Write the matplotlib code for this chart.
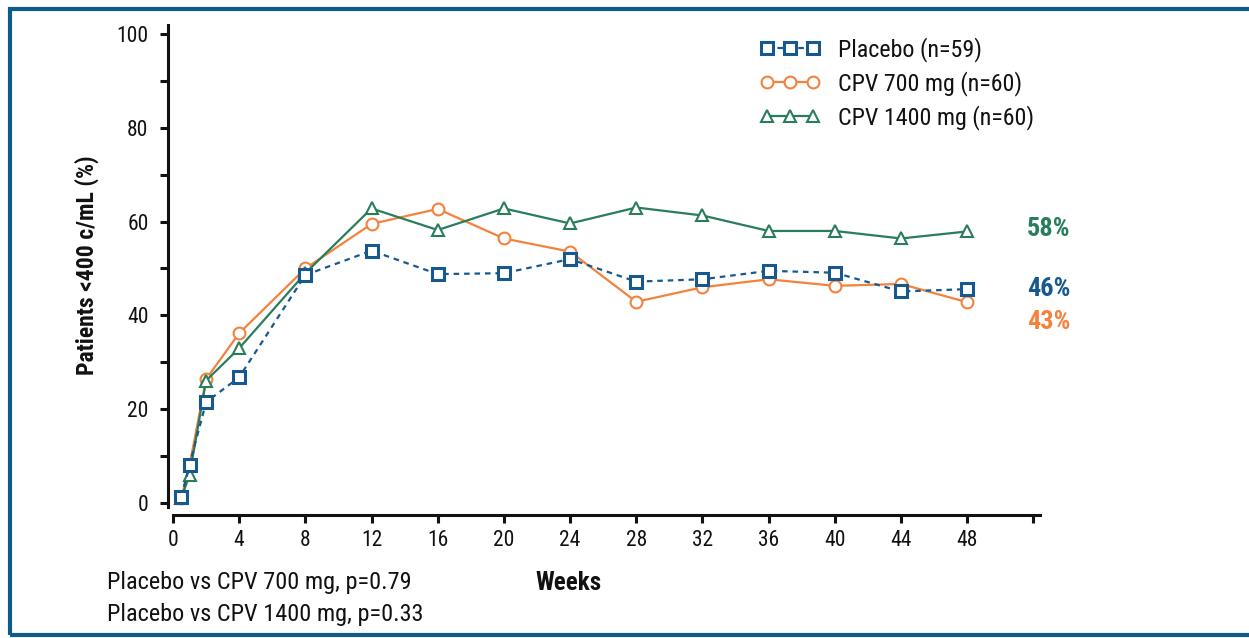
import matplotlib
matplotlib.use("Agg")
import matplotlib.pyplot as plt
from matplotlib.patches import Rectangle
from matplotlib.ticker import MultipleLocator
from matplotlib import font_manager as fm

_avail = set(f.name for f in fm.fontManager.ttflist)
_prefs = ['Roboto Condensed', 'Archivo Narrow', 'PT Sans Narrow', 'Liberation Sans Narrow',
          'Arial Narrow', 'Pragati Narrow', 'Open Sans Condensed', 'IBM Plex Sans Condensed',
          'Fira Sans Condensed', 'Liberation Sans']
FONT = next((p for p in _prefs if p in _avail), 'DejaVu Sans')
plt.rcParams['font.family'] = [FONT, 'DejaVu Sans']

# ---- data ----
weeks = [0.5, 1, 2, 4, 8, 12, 16, 20, 24, 28, 32, 36, 40, 44, 48]
placebo = [1.3, 8.2, 21.5, 26.8, 48.6, 53.8, 48.8, 49.0, 52.0, 47.2, 47.7, 49.5, 49.1, 45.1, 45.6]
cpv700 = [1.0, 8.0, 26.4, 36.2, 50.0, 59.5, 62.7, 56.4, 53.6, 42.9, 46.0, 47.7, 46.3, 46.7, 42.8]
cpv1400 = [1.0, 6.0, 26.1, 33.0, 49.0, 62.8, 58.2, 62.8, 59.6, 63.0, 61.3, 58.0, 58.0, 56.4, 57.9]
series_labels = ["Placebo (n=59)", "CPV 700 mg (n=60)", "CPV 1400 mg (n=60)"]
end_labels = ["46%", "43%", "58%"]
xticks = list(range(0, 53, 4))
xticklabels = [str(t) if t <= 48 else "" for t in xticks]
yticks = [0, 20, 40, 60, 80, 100]
footnotes = ["Placebo vs CPV 700 mg, p=0.79", "Placebo vs CPV 1400 mg, p=0.33"]

BLUE = "#17598f"
ORANGE = "#f4823c"
GREEN = "#2a7d5b"
FRAME = "#0e5a8a"
INK = "#111111"

W, H = 1249, 638
fig = plt.figure(figsize=(W / 100, H / 100), dpi=100)
fig.patch.set_facecolor("white")

def px(x, y):
    return x / W, 1 - y / H

ax_left = 173 / W
ax_width = (1040 - 173) / W
ax_bottom = (H - 506.75) / H
ax_height = (506.75 - 24.6) / H
ax = fig.add_axes([ax_left, ax_bottom, ax_width, ax_height])

ax.plot(weeks, placebo, color=BLUE, lw=1.6, ls=(0, (2.5, 2.2)), marker="s", ms=8,
        mfc="white", mec=BLUE, mew=2.2, label=series_labels[0], zorder=3)
ax.plot(weeks, cpv700, color=ORANGE, lw=1.6, marker="o", ms=8.5,
        mfc="white", mec=ORANGE, mew=1.5, label=series_labels[1], zorder=2)
ax.plot(weeks, cpv1400, color=GREEN, lw=1.6, marker="^", ms=9,
        mfc="white", mec=GREEN, mew=1.5, label=series_labels[2], zorder=2)

ax.set_xlim(0, 52.4)
ax.set_ylim(-0.8, 102)
ax.set_xticks(xticks)
ax.set_xticklabels(xticklabels)
ax.set_yticks(yticks)
ax.yaxis.set_minor_locator(MultipleLocator(10))

for s in ["top", "right"]:
    ax.spines[s].set_visible(False)
ax.spines["left"].set_position(("outward", 3.6))
ax.spines["bottom"].set_position(("outward", 5.8))
for s in ["left", "bottom"]:
    ax.spines[s].set_linewidth(2.2)
    ax.spines[s].set_color(INK)

ax.tick_params(axis="both", which="both", direction="out", length=6, width=2.2,
               color=INK, labelsize=15.5, labelcolor=INK)
ax.tick_params(axis="y", which="minor", length=6)
ax.tick_params(axis="x", pad=5)
ax.tick_params(axis="y", pad=8)

ax.set_ylabel("Patients <400 c/mL (%)", fontsize=17, fontweight="bold", color=INK)
ax.yaxis.set_label_coords(-0.085, 0.5)

# end labels
offsets = [(0, 0), (0, -14), (0, 2)]
for ys, lab, col, off in zip([placebo, cpv700, cpv1400], end_labels,
                             [BLUE, ORANGE, GREEN], offsets):
    ax.annotate(lab, xy=(weeks[-1], ys[-1]), xytext=(43 + off[0], off[1]),
                textcoords="offset points", ha="left", va="center",
                fontsize=19, fontweight="bold", color=col)

leg = ax.legend(loc="upper left", bbox_to_anchor=px(760, 37), bbox_transform=fig.transFigure,
                frameon=False, fontsize=17.3, handlelength=2.5, handletextpad=0.75,
                labelspacing=0.38, numpoints=3, borderpad=0, borderaxespad=0)
for t in leg.get_texts():
    t.set_color(INK)

fig.text(*px(569, 583), "Weeks", ha="center", va="center", fontsize=18,
         fontweight="bold", color=INK)
fig.text(*px(107, 582), footnotes[0], ha="left", va="center", fontsize=17.5, color=INK)
fig.text(*px(107, 614), footnotes[1], ha="left", va="center", fontsize=17.5, color=INK)

# frame
fig.add_artist(Rectangle(px(10, 635), (W + 20) / W, (635 - 9) / H, transform=fig.transFigure,
                         fill=False, edgecolor=FRAME, lw=3.0, clip_on=False))

fig.savefig("out.png", dpi=100)
